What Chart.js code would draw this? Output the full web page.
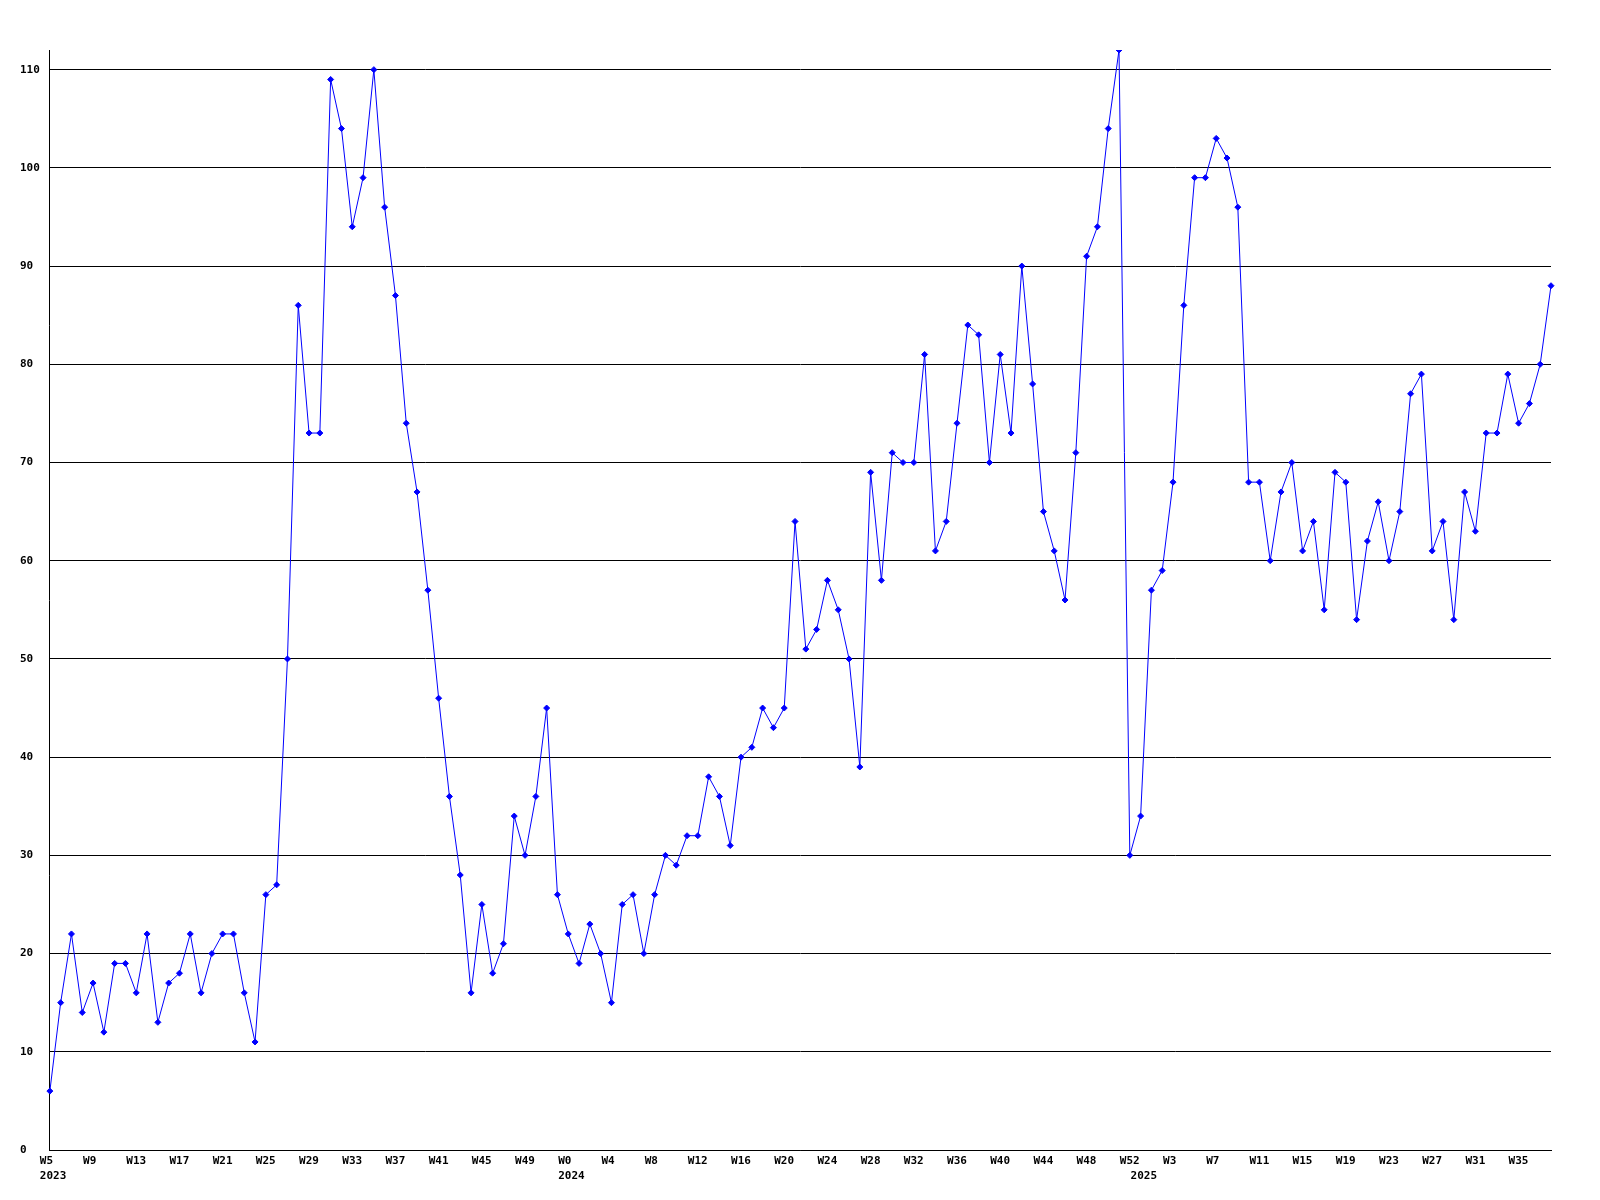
<!DOCTYPE html>
<html>
<head>
<meta charset="utf-8">
<script src="https://cdn.jsdelivr.net/npm/chart.js@4"></script>
<style>
  html, body { margin: 0; padding: 0; background: #fff; }
  #wrap { width: 1600px; height: 1200px; }
</style>
</head>
<body>
<div id="wrap"><canvas id="weeklyChart" width="1600" height="1200"></canvas></div>
<script>
// week ranges per year: [year, first week, last week]
const yearRanges = [[2023, 5, 52], [2024, 0, 52], [2025, 0, 38]];

const values = [
    6, 15, 22, 14, 17, 12, 19, 19, 16, 22,
    13, 17, 18, 22, 16, 20, 22, 22, 16, 11,
    26, 27, 50, 86, 73, 73, 109, 104, 94, 99,
    110, 96, 87, 74, 67, 57, 46, 36, 28, 16,
    25, 18, 21, 34, 30, 36, 45, 26, 22, 19,
    23, 20, 15, 25, 26, 20, 26, 30, 29, 32,
    32, 38, 36, 31, 40, 41, 45, 43, 45, 64,
    51, 53, 58, 55, 50, 39, 69, 58, 71, 70,
    70, 81, 61, 64, 74, 84, 83, 70, 81, 73,
    90, 78, 65, 61, 56, 71, 91, 94, 104, 112,
    30, 34, 57, 59, 68, 86, 99, 99, 103, 101,
    96, 68, 68, 60, 67, 70, 61, 64, 55, 69,
    68, 54, 62, 66, 60, 65, 77, 79, 61, 64,
    54, 67, 63, 73, 73, 79, 74, 76, 80, 88
];

const yMax = 112;
const yStep = 10;
const labelEvery = 4;

// build category labels
const weeks = [];
const yearStarts = {};
yearRanges.forEach(([year, from, to]) => {
    yearStarts[weeks.length] = String(year);
    for (let w = from; w <= to; w++) weeks.push('W' + w);
});

const FONT = { family: '"DejaVu Sans Mono", monospace', size: 11, weight: 'bold', lineHeight: '15px' };

new Chart(document.getElementById('weeklyChart'), {
    type: 'line',
    data: {
        labels: weeks,
        datasets: [{
            data: values,
            borderColor: '#0000ff',
            backgroundColor: '#0000ff',
            borderWidth: 1,
            tension: 0,
            pointStyle: 'rectRot',
            pointRadius: 3,
            pointBorderWidth: 1,
            fill: false
        }]
    },
    options: {
        responsive: false,
        animation: false,
        events: [],
        layout: { padding: { left: 20, top: 50, right: 49, bottom: 12 } },
        plugins: {
            legend: { display: false },
            tooltip: { enabled: false }
        },
        scales: {
            x: {
                type: 'category',
                offset: false,
                grid: { display: false, drawTicks: false },
                border: { display: true, color: '#000', width: 1 },
                ticks: {
                    autoSkip: false,
                    maxRotation: 0,
                    minRotation: 0,
                    align: 'start',
                    labelOffset: -10,
                    padding: 4,
                    color: '#000',
                    font: FONT,
                    callback(val, i) {
                        const wk = i % labelEvery === 0 ? weeks[i] : '';
                        const yr = yearStarts[i];
                        if (yr) return [wk, yr];
                        return wk || null;
                    }
                }
            },
            y: {
                min: 0,
                max: yMax,
                grid: { color: '#000', lineWidth: 1, drawTicks: false },
                border: { display: true, color: '#000', width: 1 },
                ticks: {
                    stepSize: yStep,
                    includeBounds: false,
                    crossAlign: 'far',
                    padding: 5,
                    color: '#000',
                    font: FONT
                }
            }
        }
    }
});
</script>
</body>
</html>
